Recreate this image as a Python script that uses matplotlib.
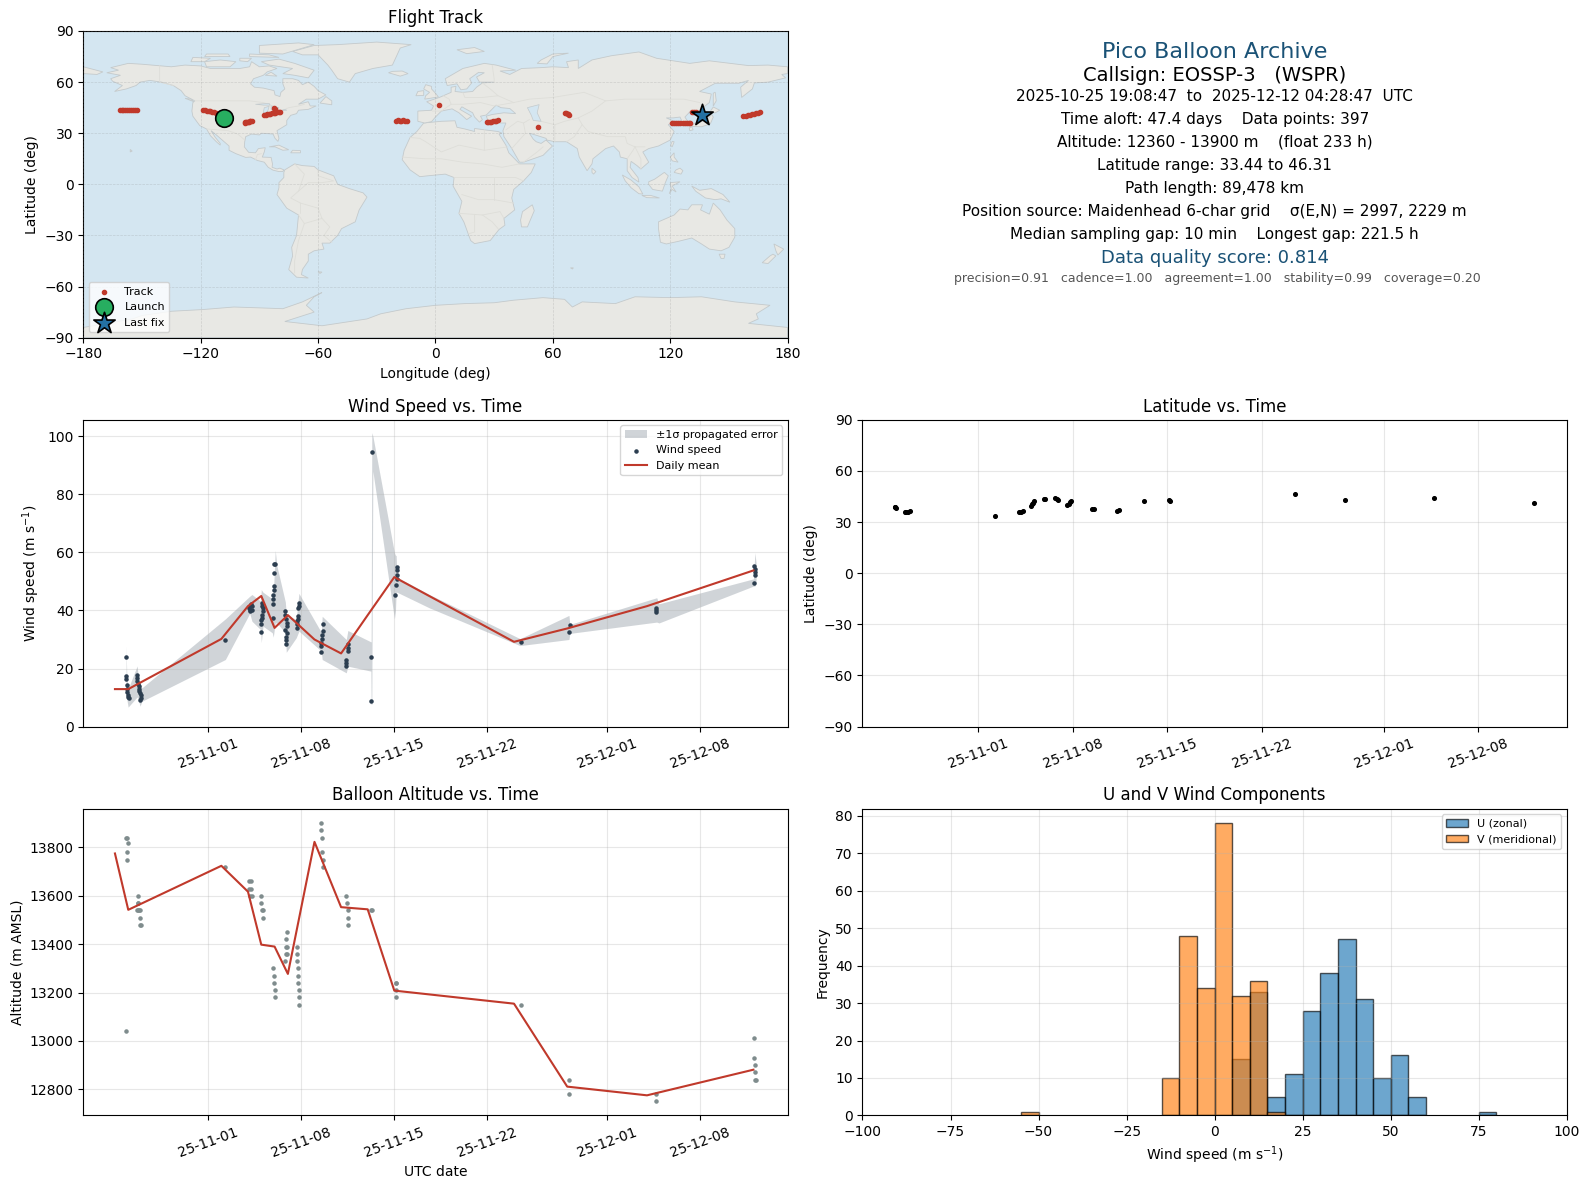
from datetime import datetime

import matplotlib
matplotlib.use("Agg")
import matplotlib.dates as mdates
import matplotlib.pyplot as plt
from matplotlib.patches import Polygon

#-----------------------------------------------------------------------
# Data. Times are days counted from 2025-11-01.
#-----------------------------------------------------------------------
NORTH_AMERICA = [(-168,65.5),(-164,66.5),(-162,67),(-166,68.5),(-157,71),(-150,70.5),(-141,69.6),(-135,69),
    (-128,70),(-120,69.5),(-115,68),(-108,68),(-100,68),(-95,69),(-94,72),(-90,69),(-85,69.5),(-81,68),(-86,66),
    (-88,64),(-93,62),(-94.5,59),(-92.5,57),(-88,56.5),(-82.5,55),(-82,52.5),(-79.5,51.5),(-79,54),(-77,56),
    (-78,59),(-78,62),(-73,62),(-70,61),(-68,58.5),(-65,60),(-62,57.5),(-60,55),(-56,52.5),(-60,50),(-66,50),
    (-70,47),(-65,48.5),(-64,46),(-61,46),(-65,44),(-70,43.5),(-71,41.5),(-74,40.5),(-76,37.5),(-76,35),
    (-81,31.5),(-80,27),(-80.5,25.2),(-82,27),(-83,29.5),(-85,29.7),(-89,30),(-90,29),(-94,29.5),(-97,28),
    (-97.5,25),(-97.7,22),(-95.5,18.8),(-92,18.5),(-90.5,21),(-87,21.5),(-87.5,19),(-88.5,16),(-84,15.8),
    (-83.3,12),(-83.5,10),(-81,9),(-79.5,9.5),(-77.5,8.5),(-78,7.5),(-80,7.5),(-83,8.3),(-85.5,10),(-87.5,13),
    (-91,14),(-94.5,16),(-97,15.8),(-102,18),(-105.5,20),(-105.5,22.5),(-109,26),(-112.5,29.5),(-114.7,31.5),
    (-112.5,27.5),(-110,24),(-110,23),(-112,25),(-115,28.5),(-117,32.5),(-120.5,34.5),(-124,40),(-124.5,43),
    (-124,48),(-123,49),(-128,52),(-130,55),(-134,58),(-140,60),(-146,61),(-151,60),(-153,58),(-158,56),
    (-164,54.5),(-160,58),(-165,60.5),(-166,62),(-161,64)]
GREENLAND = [(-73,78),(-68,76),(-60,76),(-55,70),(-53,67),(-50,62),(-44,60),(-41,65),(-32,68),(-22,70),(-20,75),
    (-18,80),(-12.4,82),(-30,83.5),(-50,82),(-62,81.5)]
SOUTH_AMERICA = [(-77,8.5),(-72,12),(-68,11),(-62,10.5),(-60,8.5),(-52,5),(-50,0),(-44,-2.5),(-37,-5),(-35,-7.5),
    (-39,-15),(-41,-22),(-48,-26),(-50,-30),(-54,-34.5),(-58,-34.5),(-57,-38),(-62,-39),(-65,-41),(-65,-45),
    (-68,-50),(-68.5,-53),(-65,-55),(-71,-54.5),(-75,-50),(-73,-42),(-73.5,-37),(-71,-30),(-70,-18),(-76,-14),
    (-81,-6),(-80,-2),(-80,1),(-77.5,4),(-77.5,7)]
AFRICA = [(-6,36),(3,37),(10,37.3),(11,33.5),(15,32.5),(20,31),(20,32.8),(25,32),(32,31),(34,30),(32.5,29.5),(36,23),
    (37.5,18.5),(43,12),(51,12),(49,7),(45,2),(40,-3),(39,-8),(40.5,-15),(35,-20),(35.5,-24),(32.5,-26.5),(28,-33),
    (20,-34.8),(18,-33),(14.5,-22),(12,-17),(13.5,-10),(9,-1),(9.5,4),(5,6),(-4,5),(-8,4.5),(-13,8.5),(-17,14.5),
    (-16,20),(-13,27.5),(-9.5,31)]
EURASIA = [(-9,37),(-9,43),(-2,43.5),(-1,46),(-4.5,48.5),(2,51),(4,52),(8,54),(8,57),(10.5,57.5),(10,54.5),(14,54),
    (19,54.5),(21,57),(24,59.5),(30,60),(22.5,60),(21,63),(25,65.5),(22,65.7),(17.5,62),(18.5,59.5),(16,56),(13,55.5),
    (11,59),(6,58),(5,62),(14,68),(25,71),(31,70),(41,67),(33,66.5),(38,64.5),(44,68),(54,68.5),(60,69),(68,68.5),
    (67,72),(73,73),(73,68),(80,73),(90,75.5),(104,77.7),(113,74),(130,71),(140,72.5),(160,69.7),(170,70),(180,69),
    (180,65),(177,64.5),(179,62.5),(170,60),(163,59.5),(162,56),(156.5,51),(156,57),(160,61),(155,59.3),(143,59.3),
    (135,54.5),(141,53),(140,48),(135,43.5),(130,42.5),(127.5,39.5),(129.5,36),(126.5,34.5),(126,37),(125,39.5),
    (121.5,39),(118,39),(122,37),(119,35),(122,31),(120,26),(114,22.5),(109,21),(106,19),(109,13),(105,9),(103,11),
    (100,13.5),(99.5,10),(103.5,4),(104,1.3),(100.5,4),(98,8),(98,15),(94.5,16),(94,19),(91,22.5),(87,21),(80.5,15),
    (80,12),(77.5,8),(73.5,16),(72.5,21),(67,25),(61,25),(57,26),(56.5,27),(51,29),(48,30),(50,26.5),(51.5,25),(54,24),
    (56.5,26),(59.8,22.5),(55,17),(45,13),(43,13),(39,21),(35,28),(34.5,31.5),(36,36),(32,36),(27,37),(26,40),(29,41),
    (35,42),(41,41.5),(38,44.5),(33.5,45),(31,46.5),(28,43),(26,40.7),(23,40),(24,38),(22.5,36.5),(20,39.5),(19,42),
    (13.5,45.5),(12.5,44),(18.5,40),(16,38),(12,42),(8.5,44.3),(3,43),(0,39.5),(-2,36.8),(-5.5,36)]
AUSTRALIA = [(114,-22),(122,-18),(125,-14.5),(129,-15),(131,-12),(136.5,-12),(135.5,-15),(140,-17.5),(142,-11),
    (145.5,-15),(149,-21),(153,-26),(153,-31),(150,-37),(146,-39),(140,-38),(136,-35),(131,-31.5),(124,-33.5),
    (118,-35),(115,-34),(114,-26)]
ANTARCTICA = [(-180,-84),(-155,-79),(-150,-77),(-135,-74.5),(-119,-73.5),(-103,-72),(-90,-72.5),(-78,-73),(-68,-69),
    (-58,-63.5),(-62,-66),(-66,-71),(-62,-75),(-77,-80.5),(-58,-83),(-35,-79),(-28,-76),(-15,-73),(0,-71),(15,-70),
    (30,-69.5),(40,-68),(55,-66.5),(66,-67.5),(70,-72),(75,-69),(92,-70),(102,-66),(120,-66.5),(136,-66),(153,-69),
    (171,-71),(164,-76),(165,-79),(160,-81.6),(180,-84),(180,-90),(-180,-90)]
ISLANDS = [
    [(-180,69),(-175,67.5),(-170,66),(-173,64.5),(-180,65)],
    [(-80,73.5),(-72,71),(-62,67),(-65,62.5),(-72,64),(-78,65),(-73,68),(-85,70),(-89,72)],
    [(-117,69),(-105,69),(-102,72),(-110,73),(-118,72)],
    [(-90,77),(-78,76.5),(-62,82),(-70,83),(-90,81.5)],
    [(-125,72),(-118,72),(-115,74),(-124,74.5)],
    [(-95,75),(-80,74.5),(-85,76),(-95,76.5)],
    [(-118,75),(-105,75),(-106,76.5),(-117,76.5)],
    [(-100,72.5),(-96,72),(-94,74),(-100,74)],
    [(-87,64),(-81,63.5),(-84,65.8)],
    [(-59,47.7),(-53,46.7),(-53,49),(-56,51.5)],
    [(-85,22),(-80,23),(-75,20.3),(-78,20),(-82,22)],
    [(-74,18.5),(-69,18.5),(-69,19.8),(-73,20)],
    [(-156,19),(-155,19.5),(-156,20.5)],
    [(-128,50.5),(-123.5,48.5),(-125,50)],
    [(-24,65.5),(-18,63.5),(-14,65),(-17,66.5),(-22,66.3)],
    [(-5.5,50),(1.5,51.3),(0,53.5),(-2,56),(-2,57.5),(-5,58.5),(-6,56),(-3,54),(-5,52)],
    [(-10,52),(-6,52.2),(-6,55),(-9,54.5)],
    [(11,79),(20,80.3),(25,78),(16,76.7)],
    [(52,71),(57,70.7),(60,75),(68,77),(60,76.5),(54,73)],
    [(142,46),(143.5,49),(143,54),(142,53.5),(142,48)],
    [(131,34),(136,33.8),(140.5,35.5),(142,39.5),(141,41.3),(139.8,39),(136.5,37),(132,35.5)],
    [(140,42),(143,42),(145.3,43.5),(142,45.4)],
    [(130,31.5),(131.7,32),(131,33.8),(129.7,33)],
    [(120.2,23),(121,22),(122,25),(121,25.2)],
    [(120,16),(122,18.5),(122,16),(124,13),(121,13.8)],
    [(122,7),(125.5,6),(126.5,8),(125,9.5),(123,8.5)],
    [(80,9.5),(82,7.5),(80.8,6),(80,7)],
    [(95.5,5.5),(100,2.5),(104,-1.5),(106,-5.7),(104,-5.5),(100,-2),(97,2)],
    [(105.5,-6.5),(110,-6.5),(114.5,-8),(108,-7.8)],
    [(109,1.5),(112,3),(117,7),(119,5),(117.5,1),(116,-4),(111,-3),(109,0)],
    [(119.5,-5.5),(120.5,-2.5),(120,1),(125,1.5),(121,-1),(123,-4.5),(121,-3)],
    [(131,-1),(135,-3.5),(141,-2.5),(147,-6),(150.5,-10.5),(146,-8.5),(143,-9),(138,-8),(133,-4)],
    [(145,-41),(148,-41),(147.5,-43.5),(146,-43.5)],
    [(173,-35),(178,-38),(175,-41.5),(174,-39)],
    [(172.5,-41),(174,-42),(170,-46.5),(167,-46),(171,-42)],
    [(49.5,-12),(50.5,-15.5),(47,-25),(44,-25),(43.5,-21),(44.5,-16)],
    [(-60,-51.3),(-58,-51.5),(-59,-52.3)],
    [(69,-49),(70.5,-49),(70,-49.7)],
]
INLAND_WATER = [
    [(47,45),(53,46.8),(52,42),(54,37),(50,37.5),(49,40.5)],
    [(-92,47),(-85,47.5),(-84.5,46.5),(-88,46.5)],
    [(-88,42),(-86,42),(-85,45.8),(-87.5,45)],
    [(-84,46),(-80,45),(-82,43),(-84,44)],
    [(-79.5,43.3),(-76,43.5),(-77,44),(-83,42)],
]
BORDERS = [
    [(-123,49),(-95,49),(-88,48),(-83,46),(-82,43),(-79,43),(-75,45),(-70,46),(-67,47)],
    [(-141,69.6),(-141,60),(-134,58)],
    [(-117,32.5),(-106,31.5),(-101,29.5),(-97.5,26)],
    [(-92,14.5),(-91,17.5),(-89,18)],
    [(-72,12),(-67,6),(-70,-4),(-74,-8),(-69,-11),(-69,-17)],
    [(-60,8.5),(-60,5),(-52,2),(-58,1),(-65,1),(-70,-4)],
    [(-69,-11),(-60,-14),(-58,-20),(-54,-25),(-57,-30),(-53,-34)],
    [(-70,-18),(-67,-23),(-70,-33),(-72,-45),(-72,-52)],
    [(-67,-23),(-58,-20)],
    [(-13,27.5),(-8,27),(-5,25),(3,19),(12,23),(25,20),(25,32)],
    [(-17,16),(-5,15),(3,15),(14,13),(24,12),(34,10),(43,12)],
    [(25,20),(37,22)],
    [(9.5,4),(15,4),(30,4),(41,4),(45,2)],
    [(13.5,-6),(22,-9),(30,-9),(40,-11)],
    [(12,-17),(24,-18),(33,-16),(35,-20)],
    [(20,-18),(20,-28),(17,-29)],
    [(24,-18),(29,-22),(32,-26)],
    [(30,4),(30,-9)],
    [(-1.5,43),(3,43),(8,47),(7,50),(4,52)],
    [(8,47),(14,47),(23,48),(30,46),(40,48),(48,50),(60,51),(76,54),(87,49),(97,50),(107,50),(118,50),(127,50),(135,48)],
    [(14,54),(15,51),(24,51),(32,52),(40,48)],
    [(24,59.5),(28,56),(32,52)],
    [(29,70),(30,62),(30,60)],
    [(87,49),(80,43),(73,39),(75,35),(78,31),(88,28),(97,28),(98,24),(102,22),(107,22)],
    [(48,38),(45,36),(46,30)],
    [(61,25),(61,35),(66,37),(73,39)],
    [(61,35),(54,37)],
    [(67,25),(71,28),(75,35)],
    [(36,32),(42,37),(45,36)],
    [(45,13),(52,19),(55,22)],
    [(39,21),(46,30)],
    [(102,22),(105,15),(105,9)],
    [(98,15),(101,20),(102,22)],
]

TRACK_LON = [-161.3,-160.4,-159.5,-158.6,-157.5,-156.6,-155.8,-154.7,-153.6,-152.3,
    -118.8,-117.8,-116.9,-115.8,-115,-114,-113,-112,
    -97.5,-97,-96.2,-95.4,-94.6,-93.6,-97.2,-96,-94.8,
    -87.6,-86.8,-86,-85.2,-84.4,-83.6,-82.7,-81.8,-81,-80.2,-79.6,-82.7,-82.2,-81.8,
    -20,-19.2,-18.3,-17.4,-16.5,-15.5,-14.6,
    2,26.4,27,27.8,28.6,29.4,30.2,31,32,
    52.2,66.3,66.8,67.5,68,68.4,
    120.8,121.9,123,124.1,125.2,126.3,127.4,128.5,129.4,130.1,131,132.2,133.4,
    157.4,158.5,159.6,160.6,161.7,162.8,163.8,164.9,165.9]
TRACK_LAT = [43.4,43.5,43.4,43.6,43.4,43.4,43.5,43.4,43.5,43.4,
    43.6,43.5,43.3,43.1,42.9,42.6,42.4,42,
    36,36.3,36.4,36.6,36.9,37.2,36.6,36.5,36.9,
    40.7,40.9,41,41.2,41.4,41.6,41.8,42,42.2,42.4,42.6,44.6,44,43.5,
    37.4,37.5,37.4,37.4,37.5,37.4,37.4,
    46.31,36.5,36.6,36.7,36.8,37,37.1,37.3,37.6,
    33.44,42,41.7,41.4,41.2,40.9,
    36.1,36.1,36.2,36.1,36.1,36.2,36.1,36.1,36.2,36.1,42.4,42.3,42.4,
    40.2,40.4,40.6,40.8,41.1,41.4,41.6,41.9,42.2]
LAUNCH_LON, LAUNCH_LAT = -107.9, 38.7
LAST_LON, LAST_LAT = 136.4, 40.6

INFO_LINES = [
    "Pico Balloon Archive",
    "Callsign: EOSSP-3   (WSPR)",
    "2025-10-25 19:08:47  to  2025-12-12 04:28:47  UTC",
    "Time aloft: 47.4 days    Data points: 397",
    "Altitude: 12360 - 13900 m    (float 233 h)",
    "Latitude range: 33.44 to 46.31",
    "Path length: 89,478 km",
    "Position source: Maidenhead 6-char grid    \u03c3(E,N) = 2997, 2229 m",
    "Median sampling gap: 10 min    Longest gap: 221.5 h",
    "Data quality score: 0.814",
    "precision=0.91   cadence=1.00   agreement=1.00   stability=0.99   coverage=0.20",
]

WIND_DAY = [-6.16,-6.16,-6.16,-6.08,-6.13,-6.08,-6.05,-6.01,-5.98,
    -5.33,-5.33,-5.33,-5.28,-5.23,-5.23,-5.18,-5.11,-5.05,-5.03,-5.11,
    1.3,
    3.13,3.23,3.3,3.08,3.18,3.3,3.13,
    4.08,4.08,4.1,4.1,4.08,4.03,4.0,3.98,3.98,
    4.88,4.88,4.88,4.88,4.95,4.95,4.95,5.05,4.98,
    5.8,5.78,5.83,5.93,5.93,5.8,5.93,5.88,5.88,5.86,
    6.83,6.8,6.78,6.73,6.73,6.68,6.68,6.65,
    8.63,8.63,8.58,8.53,8.51,8.48,8.48,
    10.49,10.54,10.49,10.39,10.39,10.34,
    12.24,12.24,12.31,
    14.04,14.16,14.19,14.19,14.19,14.19,
    23.5,27.13,27.18,33.71,33.71,33.71,
    41.08,41.14,41.14,41.14,41.08]
WIND_SPEED = [24,17.4,16.4,14.3,12.8,11.8,11,10.2,9.7,
    17.6,16.7,15.7,14.8,13.9,13,12.1,11.4,10.7,9.8,9.1,
    29.9,
    41.5,42.1,41.7,40.7,40.3,40.3,39.8,
    42.6,41.7,40.8,39.8,38.6,37.5,36.7,35.2,32.6,
    37.5,42.3,43.8,45.2,47.2,48.4,53,56.1,56.1,
    39.8,38.6,37.1,35.7,34.6,33.2,32.1,30.9,29.8,28.5,
    42.6,41.5,40.7,38,37.1,36.3,35.2,33.8,
    35.2,32.9,31.5,30.2,28.9,27.9,25.7,
    28.3,27.1,26,23.1,22,20.8,
    24,8.9,94.7,
    45.4,48.7,50.7,52.4,54.1,55,
    29.2,32.5,35.1,40.8,40.3,39.5,
    55.3,54.4,53.4,52.4,49.5]

BAND_DAY = [-6.16,-6.11,-6.01,-5.33,-5.23,-5.11,-4.98,1.3,3.13,3.3,3.95,4.0,4.13,4.83,4.9,5.05,5.18,5.81,5.88,
    6.63,6.83,8.51,8.58,10.39,10.51,12.24,12.26,12.31,12.39,14.01,14.09,14.14,14.2,16.64,23.45,27.13,27.2,33.73,33.9,
    41.0,41.11,41.2]
BAND_HIGH = [27.9,16.8,13,20.9,16,14.7,13.3,37.1,44.9,45.5,43.2,47.2,46.3,44,44.9,60.7,55.3,42.9,38.6,
    36.9,45.9,32.5,38,30,33.1,29.2,29.2,101.3,100.1,59.9,59,59,51.5,45.5,30.3,38.3,35.2,44.4,42.3,
    50.9,59.9,56.4]
BAND_LOW = [11.6,9.5,6.7,10.2,9.1,7,8.7,23.1,39,36.3,33.4,28.9,34.6,32.3,30.8,35.7,35.7,32.3,25.6,
    30.6,32.9,26,23.1,18.5,20.8,19.1,7.6,7.6,88,37.1,40,46.3,46.3,40.9,27.9,30,32.1,36,35.7,
    48.4,48.4,50.1]

MEAN_DAY = [-7,-6,1,3,4,5,6,8,10,12,14,23,27,33,41]
MEAN_SPEED = [12.9,12.9,30.2,41.5,45,34,38.4,30,25.2,38.4,51.5,29.2,33.8,41.5,53.8]
MEAN_ALT = [13775,13542,13724,13617,13398,13390,13277,13823,13553,13544,13208,13154,12811,12775,12881]

ALT_DAY = [-6.13,-6.03,-6.11,-6.11,-6.16,-6.16,
    -5.28,-5.3,-5.25,-5.33,-5.25,-5.18,-5.1,-5.11,-5.11,-5.03,
    1.3,
    3.05,3.2,3.08,3.2,3.13,3.3,
    4.0,4.0,4.05,4.15,4.13,
    4.88,4.93,4.95,5.0,5.03,
    5.93,5.86,5.83,5.93,5.83,5.9,5.8,
    6.7,6.68,6.72,6.75,6.75,6.78,6.83,6.85,6.85,
    8.5,8.48,8.55,8.6,8.62,8.65,
    10.39,10.45,10.49,10.49,10.53,
    12.26,12.31,
    14.1,14.16,14.16,14.16,
    23.5,27.13,27.13,33.71,33.71,
    41.08,41.08,41.14,41.14,41.14,41.17]
ALT_METERS = [13840,13820,13780,13750,13040,13840,
    13600,13570,13570,13540,13540,13540,13540,13510,13480,13480,
    13720,
    13660,13660,13630,13630,13600,13600,
    13600,13570,13540,13540,13510,
    13300,13270,13240,13210,13180,
    13450,13420,13390,13390,13360,13360,13330,
    13390,13360,13330,13300,13270,13240,13210,13180,13150,
    13900,13870,13840,13780,13750,13720,
    13600,13570,13540,13510,13480,
    13540,13540,
    13240,13240,13210,13180,
    13150,12840,12780,12780,12750,
    13010,12930,12900,12870,12840,12840]

LAT_DAY = [-6.2,-6.15,-6.1,-5.46,-5.35,-5.2,-5.03,1.27,2.98,3.15,3.31,3.88,3.95,4.05,4.14,4.85,4.95,5.7,5.8,5.9,
    6.6,6.68,6.78,6.85,8.45,8.55,10.3,10.45,12.23,14.1,14.2,23.45,27.15,33.74,41.14]
LAT_DEG = [39,38.7,38.3,35.9,36.1,36.2,36.4,33.44,35.8,36.1,36.5,39.6,40.4,41.4,42.2,43.3,43.6,43.9,43.4,42.9,
    39.8,40.6,41.6,42.6,37.6,37.7,36.7,37.1,42.2,42.7,42.4,46.31,43.2,44.2,41.2]

HIST_EDGES = [-55,-15,-10,-5,0,5,10,15,20,25,30,35,40,45,50,55,75]
U_COUNTS = [0,0,0,0,0,15,33,5,11,28,38,47,31,10,16,5,1]
V_COUNTS = [1,10,48,34,78,32,36,1,0,0,0,0,0,0,0,0,0]

DATE_BASE = datetime(2025, 11, 1)
DATE_TICKS = [datetime(2025,11,1),datetime(2025,11,8),datetime(2025,11,15),datetime(2025,11,22),
    datetime(2025,12,1),datetime(2025,12,8)]

RED = "#c0392b"
NAVY = "#2c3e50"
SLATE = "#7f8c8d"
TITLE_BLUE = "#1a5276"
OCEAN = "#d4e6f1"
LAND = "#e8e8e4"


def to_dates(days):
    base = mdates.date2num(DATE_BASE)
    return [base + d for d in days]


def style_time_axis(ax, left, right):
    ax.set_xlim(mdates.date2num(DATE_BASE) + left, mdates.date2num(DATE_BASE) + right)
    ax.set_xticks(mdates.date2num(DATE_TICKS))
    ax.xaxis.set_major_formatter(mdates.DateFormatter("%y-%m-%d"))
    ax.tick_params(axis="x", labelrotation=20)
    ax.grid(True, alpha=0.3)


def main():
    fig = plt.figure(figsize=(15.9, 11.89), dpi=100)
    fig.subplots_adjust(left=83.3/1590, right=1566.8/1590, top=1-31/1189, bottom=1-1115.4/1189,
                        wspace=0.1063, hspace=0.268)
    ax_map = fig.add_subplot(3, 2, 1)
    ax_info = fig.add_subplot(3, 2, 2)
    ax_wind = fig.add_subplot(3, 2, 3)
    ax_lat = fig.add_subplot(3, 2, 4)
    ax_alt = fig.add_subplot(3, 2, 5)
    ax_hist = fig.add_subplot(3, 2, 6)

    #---------------------------------------------------------------
    # Flight track map
    #---------------------------------------------------------------
    ax_map.set_facecolor(OCEAN)
    for shape in [NORTH_AMERICA, GREENLAND, SOUTH_AMERICA, AFRICA, EURASIA, AUSTRALIA, ANTARCTICA] + ISLANDS:
        ax_map.add_patch(Polygon(shape, closed=True, facecolor=LAND, edgecolor="#c4cacc", linewidth=0.6, zorder=1))
    for shape in INLAND_WATER:
        ax_map.add_patch(Polygon(shape, closed=True, facecolor=OCEAN, edgecolor="#c4cacc", linewidth=0.5, zorder=1.2))
    for line in BORDERS:
        ax_map.plot([p[0] for p in line], [p[1] for p in line], color="#dedeD9", lw=0.6, zorder=1.1)
    ax_map.grid(True, ls="--", lw=0.5, color="gray", alpha=0.25, zorder=2)
    ax_map.set_axisbelow(False)
    ax_map.scatter(TRACK_LON, TRACK_LAT, s=9, color=RED, label="Track", zorder=3)
    ax_map.scatter([LAUNCH_LON], [LAUNCH_LAT], s=160, color="#27ae60", edgecolors="black", linewidths=1.2,
                   label="Launch", zorder=4)
    ax_map.scatter([LAST_LON], [LAST_LAT], s=260, marker="*", color="#2471a3", edgecolors="black", linewidths=1.2,
                   label="Last fix", zorder=4)
    ax_map.set_xlim(-180, 180)
    ax_map.set_ylim(-90, 90)
    ax_map.set_xticks(range(-180, 181, 60))
    ax_map.set_yticks(range(-90, 91, 30))
    ax_map.set_xlabel("Longitude (deg)")
    ax_map.set_ylabel("Latitude (deg)")
    ax_map.set_title("Flight Track")
    ax_map.legend(loc="lower left", fontsize=8)

    #---------------------------------------------------------------
    # Summary text
    #---------------------------------------------------------------
    ax_info.axis("off")
    text_x = [0.5]*10 + [0.504]
    text_y = [0.932, 0.856, 0.788, 0.713, 0.639, 0.563, 0.487, 0.413, 0.338, 0.259, 0.192]
    sizes = [16, 14, 11, 11, 11, 11, 11, 11, 11, 13, 9]
    colors = [TITLE_BLUE, "black"] + ["black"]*7 + [TITLE_BLUE, "#555555"]
    for line, x, y, size, color in zip(INFO_LINES, text_x, text_y, sizes, colors):
        ax_info.text(x, y, line, transform=ax_info.transAxes, ha="center", va="center",
                     fontsize=size, color=color)

    #---------------------------------------------------------------
    # Wind speed
    #---------------------------------------------------------------
    ax_wind.fill_between(to_dates(BAND_DAY), BAND_LOW, BAND_HIGH, color=NAVY, alpha=0.22, linewidth=0,
                         label="\u00b11\u03c3 propagated error")
    ax_wind.scatter(to_dates(WIND_DAY), WIND_SPEED, s=5, color=NAVY, label="Wind speed", zorder=3)
    ax_wind.plot(to_dates(MEAN_DAY), MEAN_SPEED, color=RED, lw=1.5, label="Daily mean", zorder=4)
    style_time_axis(ax_wind, -9.38, 43.57)
    ax_wind.set_ylim(0, 105.7)
    ax_wind.set_ylabel("Wind speed (m s$^{-1}$)")
    ax_wind.set_title("Wind Speed vs. Time")
    ax_wind.legend(loc="upper right", fontsize=8)

    #---------------------------------------------------------------
    # Latitude
    #---------------------------------------------------------------
    ax_lat.scatter(to_dates(LAT_DAY), LAT_DEG, s=7, color="black", zorder=3)
    style_time_axis(ax_lat, -8.57, 43.56)
    ax_lat.set_ylim(-90, 90)
    ax_lat.set_yticks(range(-90, 91, 30))
    ax_lat.set_ylabel("Latitude (deg)")
    ax_lat.set_title("Latitude vs. Time")

    #---------------------------------------------------------------
    # Altitude
    #---------------------------------------------------------------
    ax_alt.scatter(to_dates(ALT_DAY), ALT_METERS, s=5, color=SLATE, zorder=3)
    ax_alt.plot(to_dates(MEAN_DAY), MEAN_ALT, color=RED, lw=1.5, zorder=4)
    style_time_axis(ax_alt, -9.38, 43.57)
    ax_alt.set_ylim(12692, 13960)
    ax_alt.set_xlabel("UTC date")
    ax_alt.set_ylabel("Altitude (m AMSL)")
    ax_alt.set_title("Balloon Altitude vs. Time")

    #---------------------------------------------------------------
    # U and V histogram
    #---------------------------------------------------------------
    ax_hist.bar(HIST_EDGES, U_COUNTS, width=5, align="edge", color="tab:blue", alpha=0.65, edgecolor="black",
                linewidth=1, label="U (zonal)")
    ax_hist.bar(HIST_EDGES, V_COUNTS, width=5, align="edge", color="tab:orange", alpha=0.65, edgecolor="black",
                linewidth=1, label="V (meridional)")
    ax_hist.set_xlim(-100, 100)
    ax_hist.set_ylim(0, 81.9)
    ax_hist.grid(True, alpha=0.3)
    ax_hist.set_xlabel("Wind speed (m s$^{-1}$)")
    ax_hist.set_ylabel("Frequency")
    ax_hist.set_title("U and V Wind Components")
    ax_hist.legend(loc="upper right", fontsize=8)

    fig.savefig("out.png", dpi=100)


if __name__ == "__main__":
    main()
